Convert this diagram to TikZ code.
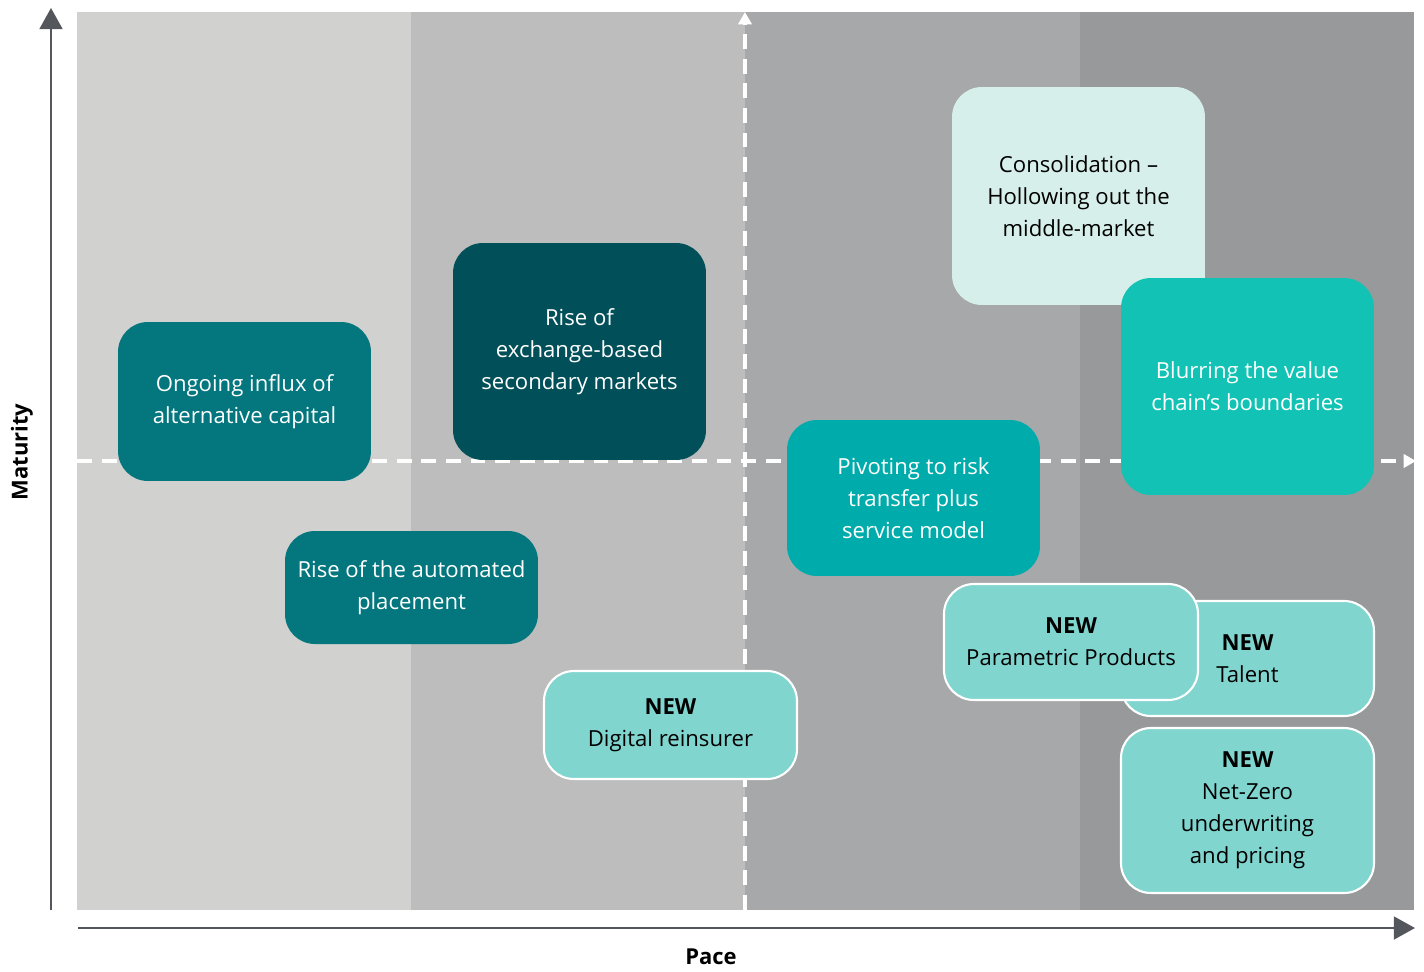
\documentclass[tikz,border=0pt]{standalone}
\usepackage{fontspec}
\setmainfont{Open Sans}
\usetikzlibrary{arrows.meta}
\definecolor{stripA}{HTML}{D1D1CF}
\definecolor{stripB}{HTML}{BCBDBC}
\definecolor{stripC}{HTML}{A7A8AA}
\definecolor{stripD}{HTML}{97999B}
\definecolor{tealmid}{HTML}{03767E}
\definecolor{tealdark}{HTML}{004F59}
\definecolor{tealpale}{HTML}{D7EFEA}
\definecolor{tealbright}{HTML}{12C3B5}
\definecolor{tealpivot}{HTML}{00ABAB}
\definecolor{tealnew}{HTML}{80D5CF}
\definecolor{axisgrey}{HTML}{53565A}
\tikzset{
  box/.style={rounded corners=17pt, minimum width=5.06cm, align=center,
    font=\fontsize{12.6}{18.3}\selectfont, inner sep=2pt},
  newbox/.style={box, fill=tealnew, draw=white, line width=1.2pt, text=black},
  quad/.style={white, line width=1.9pt, dash pattern=on 8.5pt off 5.5pt,
    -{Triangle[length=7pt,width=7.5pt]}},
  axis/.style={axisgrey, line width=1.2pt, -{Triangle[length=12pt,width=13pt]}}
}

\begin{document}
\begin{tikzpicture}[x=0.02cm,y=-0.02cm]
\useasboundingbox (0,0) rectangle (1424,971);
% background bands
\fill[stripA] (77,12) rectangle (411,910);
\fill[stripB] (411,12) rectangle (745,910);
\fill[stripC] (745,12) rectangle (1080,910);
\fill[stripD] (1080,12) rectangle (1414,910);
% quadrant lines
\coordinate (vbot) at (745,910); \coordinate (vtop) at (745,12);
\coordinate (hleft) at (77,461); \coordinate (hright) at (1416,461);
\draw[quad] (vbot) -- (vtop);
\draw[quad] (hleft) -- (hright);
% boxes
\node[box, fill=tealmid, text=white, minimum height=3.18cm] (influx) at (244.5,401.5) {Ongoing influx of\\alternative capital};
\node[box, fill=tealdark, text=white, minimum height=4.34cm] (exchange) at (579.5,351.5) {Rise of\\exchange-based\\secondary markets};
\node[box, fill=tealmid, text=white, minimum height=2.26cm] (placement) at (411.5,587.5) {Rise of the automated\\placement};
\node[newbox, minimum height=2.16cm] (reinsurer) at (670.5,725) {\textbf{NEW}\\Digital reinsurer};
\node[box, fill=tealpale, text=black, minimum height=4.36cm] (consolidation) at (1078.5,196) {Consolidation --\\Hollowing out the\\middle-market};
\node[box, fill=tealbright, text=white, minimum height=4.34cm] (blurring) at (1247.5,386.5) {Blurring the value\\chain’s boundaries};
\node[box, fill=tealpivot, text=white, minimum height=3.12cm] (pivoting) at (913.5,498) {Pivoting to risk\\transfer plus\\service model};
\node[newbox, minimum height=2.3cm] (talent) at (1247.5,658.5) {\textbf{NEW}\\Talent};
\node[newbox, minimum width=5.08cm, minimum height=2.32cm] (parametric) at (1071,642) {\textbf{NEW}\\Parametric Products};
\node[newbox, minimum height=3.3cm] (netzero) at (1247.5,810.5) {\textbf{NEW}\\Net-Zero\\underwriting\\and pricing};
% axes
\coordinate (origin) at (51,910); \coordinate (ytop) at (51,8);
\coordinate (xleft) at (78,928); \coordinate (xright) at (1415,928);
\draw[axis] (origin) -- (ytop);
\draw[axis] (xleft) -- (xright);
\node[rotate=90, font=\fontsize{12.5}{15}\selectfont\bfseries] (maturity) at (22,452) {Maturity};
\node[font=\fontsize{12.5}{15}\selectfont\bfseries] (pace) at (711,957) {Pace};
\end{tikzpicture}
\end{document}
